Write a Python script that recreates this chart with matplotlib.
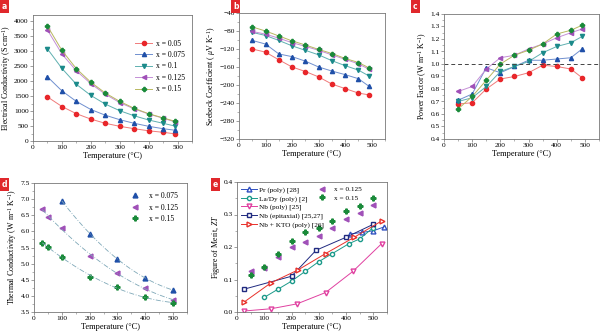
import numpy as np
import matplotlib
matplotlib.use('Agg')
import matplotlib.pyplot as plt
from matplotlib.ticker import AutoMinorLocator

plt.rcParams['font.family'] = ['Liberation Serif', 'DejaVu Serif']
plt.rcParams['font.size'] = 5
plt.rcParams['mathtext.fontset'] = 'custom'
plt.rcParams['mathtext.rm'] = 'Liberation Serif'
plt.rcParams['mathtext.it'] = 'Liberation Serif:italic'

# Данные
T = [50, 100, 150, 200, 250, 300, 350, 400, 450, 490]
labels = ['x = 0.05', 'x = 0.075', 'x = 0.1', 'x = 0.125', 'x = 0.15']

sigma_005 = [1470, 1150, 910, 730, 590, 490, 410, 340, 290, 240]
sigma_0075 = [2140, 1670, 1320, 1050, 860, 710, 590, 490, 410, 360]
sigma_01 = [3070, 2420, 1890, 1520, 1230, 1010, 840, 700, 590, 500]
sigma_0125 = [3700, 2900, 2340, 1910, 1560, 1280, 1070, 900, 760, 640]
sigma_015 = [3830, 3020, 2410, 1960, 1600, 1320, 1090, 910, 770, 660]

seebeck_005 = [-120, -127, -144, -160, -170, -182, -198, -208, -218, -222]
seebeck_0075 = [-101, -109, -131, -137, -147, -160, -169, -177, -186, -203]
seebeck_01 = [-83, -90, -101, -113, -123, -133, -146, -157, -167, -180]
seebeck_0125 = [-81, -87, -96, -106, -114, -123, -133, -143, -153, -165]
seebeck_015 = [-71, -80, -91, -102, -111, -121, -130, -141, -150, -162]

pf_005 = [0.68, 0.69, 0.80, 0.88, 0.90, 0.93, 0.99, 0.98, 0.96, 0.89]
pf_0075 = [0.71, 0.76, 0.97, 0.93, 0.98, 1.03, 1.03, 1.04, 1.05, 1.12]
pf_01 = [0.70, 0.73, 0.82, 0.94, 0.98, 1.02, 1.09, 1.14, 1.17, 1.22]
pf_0125 = [0.78, 0.82, 0.96, 1.05, 1.07, 1.12, 1.16, 1.21, 1.25, 1.28]
pf_015 = [0.64, 0.74, 0.87, 1.00, 1.07, 1.11, 1.16, 1.24, 1.27, 1.31]

kT_0075 = [100, 200, 300, 400, 500]
kappa_0075 = [6.95, 5.93, 5.15, 4.55, 4.18]
kT_0125 = [30, 50, 100, 200, 300, 400, 500]
kappa_0125 = [6.70, 6.45, 6.10, 5.25, 4.72, 4.23, 3.87]
kT_015 = [30, 50, 100, 200, 300, 400, 500]
kappa_015 = [5.65, 5.52, 5.20, 4.58, 4.27, 3.98, 3.77]

zt_T = [50, 100, 150, 200, 250, 300, 350, 400, 450, 500]
zt_0125 = [0.125, 0.135, 0.17, 0.20, 0.215, 0.235, 0.26, 0.285, 0.305, 0.33]
zt_015 = [0.115, 0.14, 0.18, 0.22, 0.245, 0.26, 0.28, 0.31, 0.325, 0.35]
pr_T = [415, 460, 500, 540]
pr_zt = [0.24, 0.245, 0.25, 0.262]
lady_T = [100, 150, 200, 250, 300, 350, 410, 450, 500]
lady_zt = [0.045, 0.07, 0.095, 0.125, 0.155, 0.18, 0.21, 0.225, 0.26]
nbp_T = [25, 125, 220, 325, 425, 530]
nbp_zt = [0.003, 0.01, 0.025, 0.06, 0.125, 0.21]
nbe_T = [25, 200, 290, 400, 500]
nbe_zt = [0.07, 0.11, 0.19, 0.23, 0.27]
kto_T = [25, 125, 225, 325, 430, 530]
kto_zt = [0.03, 0.09, 0.13, 0.18, 0.23, 0.28]

mcolors = ['#e8262a', '#1f4fa8', '#1b8a8a', '#a050b8', '#1a8a3a']
lcolors = ['#f07a7a', '#6f8fcf', '#5fb0b0', '#c48fd6', '#b8b860']
markers = ['o', '^', 'v', '<', 'P']

W, H = 600, 333


def make_ax(l, r, t, b):
    ax = fig.add_axes([l / W, (H - b) / H, (r - l) / W, (b - t) / H])
    for s in ax.spines.values():
        s.set_color('#777777')
        s.set_linewidth(0.6)
    ax.tick_params(length=2, width=0.5, pad=1.2, color='#777777', labelsize=5.3)
    ax.tick_params(which='minor', length=1.2, width=0.4, color='#777777')
    ax.xaxis.set_minor_locator(AutoMinorLocator(2))
    ax.yaxis.set_minor_locator(AutoMinorLocator(2))
    ax.set_xlim(0, 550)
    ax.set_xticks([0, 100, 200, 300, 400, 500])
    ax.set_xlabel('Temperature (°C)', fontsize=6, labelpad=1.2)
    return ax


def tag(x, y, s):
    fig.text(x / W, 1 - y / H, s, color='white', fontsize=5.5, fontweight='bold',
             family='DejaVu Sans', va='top', ha='left',
             bbox=dict(boxstyle='square,pad=0.25', fc='#e0282c', ec='none'))


fig = plt.figure(figsize=(6, 3.33), dpi=100)

# a
ax = make_ax(33, 192, 15, 141)
for y, mc, lc, m, lab in zip([sigma_005, sigma_0075, sigma_01, sigma_0125, sigma_015],
                              mcolors, lcolors, markers, labels):
    ax.plot(T, y, color=lc, lw=0.7, marker=m, ms=3, mfc=mc, mec=mc, label=lab)
ax.set_ylim(0, 4200)
ax.set_yticks(range(0, 4001, 500))
ax.set_ylabel('Electrical Conductivity (S cm$^{-1}$)', fontsize=5.8, labelpad=1)
ax.legend(loc='upper right', bbox_to_anchor=(1.0, 0.86), frameon=False, fontsize=5.5,
          handlelength=2.2, labelspacing=0.45, handletextpad=0.5)
tag(2, 2, 'a')

# b
ax = make_ax(239, 385, 13, 139)
for y, mc, lc, m in zip([seebeck_005, seebeck_0075, seebeck_01, seebeck_0125, seebeck_015],
                        mcolors, lcolors, markers):
    ax.plot(T, y, color=lc, lw=0.7, marker=m, ms=3, mfc=mc, mec=mc)
ax.set_ylim(-320, -40)
ax.set_yticks(range(-320, -39, 40))
ax.set_ylabel('Seebeck Coefficient ( $\\mu$V K$^{-1}$)', fontsize=5.8, labelpad=1)
tag(233, 2, 'b')

# c
ax = make_ax(444, 599, 14, 139)
for y, mc, lc, m in zip([pf_005, pf_0075, pf_01, pf_0125, pf_015],
                        mcolors, lcolors, markers):
    ax.plot(T, y, color=lc, lw=0.7, marker=m, ms=3, mfc=mc, mec=mc)
ax.axhline(1.0, color='#444444', lw=0.7, ls=(0, (4, 3)))
ax.set_ylim(0.4, 1.4)
ax.set_yticks(np.arange(0.4, 1.41, 0.1))
ax.set_ylabel('Power Factor (W m$^{-1}$ K$^{-1}$)', fontsize=5.8, labelpad=1)
tag(413, 2, 'c')

# d
ax = make_ax(34, 187, 183, 312)
for tt, kk, i, lab in [(kT_0075, kappa_0075, 1, 'x = 0.075'),
                       (kT_0125, kappa_0125, 3, 'x = 0.125'),
                       (kT_015, kappa_015, 4, 'x = 0.15')]:
    ax.plot(tt, kk, ls='none', marker=markers[i], ms=3.5, color=mcolors[i], label=lab)
    coef = np.polyfit(tt, kk, 2)
    xs = np.linspace(min(tt), max(tt), 100)
    ax.plot(xs, np.polyval(coef, xs), color='#7fa8b8', lw=0.6, ls=(0, (6, 2, 1, 2)))
ax.set_ylim(3.5, 7.5)
ax.set_yticks(np.arange(3.5, 7.51, 0.5))
ax.set_ylabel('Thermal Conductivity (W m$^{-1}$ K$^{-1}$)', fontsize=5.8, labelpad=1)
ax.legend(loc='upper right', frameon=False, fontsize=5.5, handlelength=1.2,
          labelspacing=0.45, handletextpad=1.2, borderaxespad=0.8)
tag(2, 180, 'd')

# e
ax = make_ax(237, 387, 182, 312)
h1 = ax.plot(pr_T, pr_zt, color='#3050c0', lw=0.7, marker='^', ms=3.5, mfc='white',
             label='Pr (poly) [28]')[0]
h2 = ax.plot(lady_T, lady_zt, color='#1b9a8a', lw=0.7, marker='o', ms=3, mfc='white',
             label='La/Dy (poly) [2]')[0]
h3 = ax.plot(nbp_T, nbp_zt, color='#e040a0', lw=0.7, marker='v', ms=3.5, mfc='white',
             label='Nb (poly) [25]')[0]
h4 = ax.plot(nbe_T, nbe_zt, color='#202a80', lw=0.7, marker='s', ms=3, mfc='white',
             label='Nb (epitaxial) [25,27]')[0]
h5 = ax.plot(kto_T, kto_zt, color='#e8302a', lw=0.7, marker='>', ms=3.5, mfc='white',
             label='Nb + KTO (poly) [26]')[0]
h6 = ax.plot(zt_T, zt_0125, ls='none', marker='<', ms=3.5, color=mcolors[3], label='x = 0.125')[0]
h7 = ax.plot(zt_T, zt_015, ls='none', marker='P', ms=3.5, color=mcolors[4], label='x = 0.15')[0]
leg1 = ax.legend(handles=[h1, h2, h3, h4, h5], loc='upper left', frameon=False, fontsize=5.2,
                 handlelength=2.2, labelspacing=0.3, handletextpad=0.3, borderaxespad=0.2)
ax.add_artist(leg1)
ax.legend(handles=[h6, h7], loc='upper left', bbox_to_anchor=(0.5, 1.0), frameon=False,
          fontsize=5.2, handlelength=1.5, labelspacing=0.3, handletextpad=1.0,
          borderaxespad=0.2)
ax.set_ylim(0, 0.4)
ax.set_yticks([0.0, 0.1, 0.2, 0.3, 0.4])
ax.set_yticklabels(['0.0', '0.1', '0.2', '0.3', '0.4'])
ax.set_ylabel('Figure of Merit, $\\mathit{ZT}$', fontsize=5.8, labelpad=1)
tag(213, 180, 'e')

fig.savefig('out.png', dpi=100)
